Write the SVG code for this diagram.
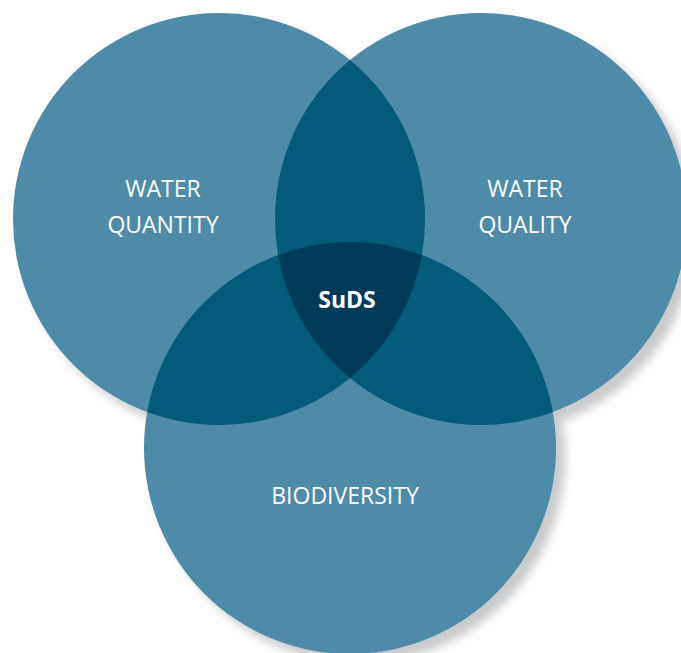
<svg xmlns="http://www.w3.org/2000/svg" width="681" height="653" viewBox="0 0 681 653">
<style>
.lbl{font-family:"Open Sans","Liberation Sans",sans-serif;font-size:23px;fill:#ffffff;text-anchor:middle}
.bold{font-weight:bold;font-size:23px}
</style>
<defs>
<filter id="sh" x="-20%" y="-20%" width="140%" height="140%"><feGaussianBlur stdDeviation="5"/></filter>
<clipPath id="cL"><circle cx="219" cy="219" r="206"/></clipPath>
<clipPath id="cR"><circle cx="481" cy="219" r="206"/></clipPath>
<clipPath id="cB"><circle cx="350" cy="448" r="206"/></clipPath>
</defs>
<rect width="681" height="653" fill="#ffffff"/>
<g id="shadow" fill="#c9cacc" filter="url(#sh)">
<circle cx="228" cy="228" r="206"/>
<circle cx="490" cy="228" r="206"/>
<circle cx="359" cy="457" r="206"/>
</g>
<g id="water-quantity"><circle cx="219" cy="219" r="206" fill="#4e8ba9"/></g>
<g id="water-quality"><circle cx="481" cy="219" r="206" fill="#4e8ba9"/></g>
<g id="biodiversity"><circle cx="350" cy="448" r="206" fill="#4e8ba9"/></g>
<g id="overlaps">
<g clip-path="url(#cL)"><circle cx="481" cy="219" r="206" fill="#045a7a"/><circle cx="350" cy="448" r="206" fill="#045a7a"/></g>
<g clip-path="url(#cR)"><circle cx="350" cy="448" r="206" fill="#045a7a"/></g>
<g clip-path="url(#cL)"><g clip-path="url(#cR)"><circle cx="350" cy="448" r="206" fill="#003c5a"/></g></g>
</g>
<g id="labels">
<text class="lbl" x="163" y="197">WATER</text>
<text class="lbl" x="163" y="233">QUANTITY</text>
<text class="lbl" x="525" y="197">WATER</text>
<text class="lbl" x="525" y="233">QUALITY</text>
<text class="lbl" x="345" y="504">BIODIVERSITY</text>
<text class="lbl bold" x="347" y="308">SuDS</text>
</g>
</svg>
